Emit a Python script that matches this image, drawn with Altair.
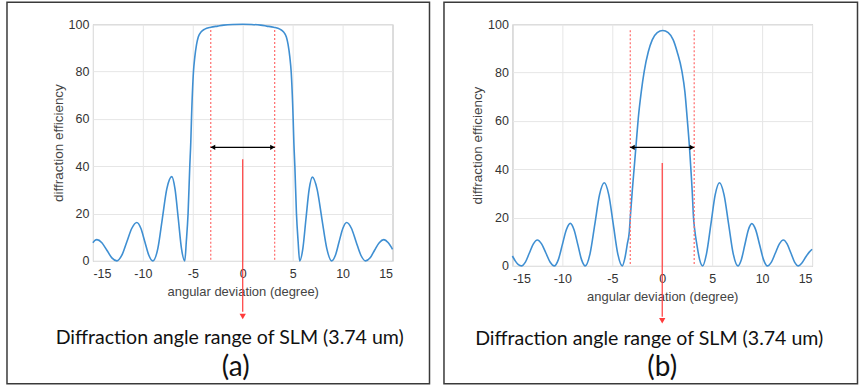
import altair as alt
import pandas as pd

# ---------------- data ----------------
x_ticks = [-15, -10, -5, 0, 5, 10, 15]
y_ticks = [0, 20, 40, 60, 80, 100]

# panel (a) curve
a_x = [-15.0, -14.8, -14.6, -14.1, -13.6, -13.1, -12.6,
       -12.1, -11.6, -11.1, -10.6, -10.2, -9.8, -9.4, -9.0,
       -8.5, -8.05, -7.6, -7.1, -6.78, -6.45, -6.13, -5.8,
       -5.65, -5.47, -5.3, -5.2, -5.13, -4.93, -4.8, -4.62, -4.45, -4.15, -3.8,
       -3.2, -2.5, -1.9, -1.0, 0.0, 0.9, 1.8, 2.4, 3.1, 3.72,
       4.07, 4.37, 4.54, 4.72, 4.85, 5.05, 5.12, 5.22, 5.38, 5.55, 5.7,
       6.02, 6.33, 6.65, 6.97, 7.45, 7.93, 8.42, 8.9,
       9.28, 9.65, 10.03, 10.4, 10.88, 11.35, 11.83, 12.3,
       12.76, 13.2, 13.67, 14.13, 14.55, 15.0]
a_y = [7.7, 8.7, 9.0, 7.7, 4.5, 1.3, 0.0,
       2.4, 8.1, 13.8, 16.2, 13.8, 8.1, 2.4, 0.0,
       5.2, 17.8, 30.4, 35.6, 30.4, 17.8, 5.2, 0.0,
       8.0, 20.0, 40.0, 50.0, 60.0, 80.0, 86.0, 91.5, 94.6, 96.8, 97.9,
       98.7, 99.2, 99.6, 99.9, 100.0, 99.9, 99.6, 99.2, 98.7, 97.9,
       96.8, 94.6, 91.5, 86.0, 80.0, 60.0, 50.0, 40.0, 20.0, 8.0, 0.0,
       5.2, 17.7, 30.2, 35.4, 30.2, 17.7, 5.2, 0.0,
       2.4, 8.1, 13.8, 16.2, 13.8, 8.1, 2.4, 0.0,
       1.3, 4.5, 7.7, 9.0, 7.8, 4.9]

# panel (b) curve
b_x = [-15.0, -14.7, -14.4, -14.1,
       -13.7, -13.3, -12.9, -12.5, -12.08, -11.65, -11.23, -10.8,
       -10.4, -10.0, -9.6, -9.2, -8.83, -8.45, -8.08, -7.7,
       -7.23, -6.75, -6.28, -5.8, -5.35, -4.9, -4.45, -4.0,
       -3.75, -3.5, -3.3, -3.2, -3.0, -2.8, -2.6, -2.4, -2.1, -1.8, -1.4, -1.0, -0.5,
       0.05, 0.6, 1.1, 1.5, 1.97, 2.27, 2.5, 2.73, 2.9, 3.0, 3.13, 3.25, 3.5, 3.75, 4.05,
       4.43, 4.87, 5.3, 5.73, 6.19, 6.65, 7.11, 7.57,
       7.92, 8.27, 8.62, 8.97, 9.36, 9.75, 10.14, 10.53,
       10.93, 11.33, 11.73, 12.13, 12.5, 12.88, 13.25, 13.63,
       14.0, 14.4, 14.7, 15.0]
b_y = [4.1, 2.0, 0.5, 0.0,
       1.6, 5.35, 9.1, 10.7, 9.1, 5.35, 1.6, 0.0,
       2.6, 8.8, 15.0, 17.6, 15.0, 8.8, 2.6, 0.0,
       5.0, 17.2, 29.4, 34.4, 29.4, 17.2, 5.0, 0.0,
       3.0, 9.0, 14.0, 20.0, 31.0, 41.0, 51.0, 61.0, 72.0, 80.6, 88.5, 93.5, 96.5,
       97.4, 96.5, 93.5, 88.5, 80.6, 72.0, 61.0, 49.0, 38.0, 31.0, 20.0, 15.0, 8.0, 2.5, 0.0,
       5.0, 17.2, 29.4, 34.4, 29.4, 17.2, 5.0, 0.0,
       2.6, 8.75, 14.9, 17.5, 14.9, 8.75, 2.6, 0.0,
       1.6, 5.35, 9.1, 10.7, 9.1, 5.35, 1.6, 0.0,
       1.3, 3.9, 5.6, 6.9]

# annotations (data units)
range_edges = [-3.2, 3.2]          # red dashed lines
range_top = 97.5
arrow_level_a = 48
arrow_level_b = 49
red_arrow_a = [43, -21.5, -23.5]   # start, end, head
red_arrow_b = [42.6, -21, -22.7]
caption = "Diffraction angle range of SLM (3.74 um)"
panel_labels = ["(a)", "(b)"]

BLUE = "#3f8fd2"
RED = "#ff3b3b"
DASH_RED = "#ff6b6b"
XS = alt.Scale(domain=[-15, 15], nice=False)
YS = alt.Scale(domain=[0, 100], nice=False)
XA = alt.Axis(values=x_ticks, title="angular deviation (degree)", labelExpr="datum.value + ''",
              titleFontSize=13)
YA = alt.Axis(values=y_ticks, title="diffraction efficiency", labelExpr="datum.value + ''",
              titleFontSize=13.5)


def X(f):
    return alt.X(f, scale=XS, axis=XA)


def Y(f):
    return alt.Y(f, scale=YS, axis=YA)


def panel(xs, ys, height, arrow_level, red_arrow, label, border, cap_pos, lab_pos):
    curve = pd.DataFrame({"x": xs, "y": ys})
    one = pd.DataFrame({"t": [caption], "l": [label]})

    border_l = alt.Chart(one).mark_rect(fillOpacity=0, stroke="#3a3a3a", strokeWidth=1.5).encode(
        x=alt.value(border[0]), x2=alt.value(border[1]),
        y=alt.value(border[2]), y2=alt.value(border[3]))

    line = alt.Chart(curve).mark_line(color=BLUE, strokeWidth=1.6, interpolate="monotone").encode(
        x=X("x:Q"), y=Y("y:Q"))

    dashed = alt.Chart(pd.DataFrame({"x": range_edges, "y": [range_top] * 2, "y2": [0, 0]})).mark_rule(
        color=DASH_RED, strokeDash=[2, 2], strokeWidth=1.2).encode(
        x=X("x:Q"), y=Y("y:Q"), y2="y2:Q")

    harrow = alt.Chart(pd.DataFrame({"x": [range_edges[0]], "x2": [range_edges[1]], "y": [arrow_level]})).mark_rule(
        color="black", strokeWidth=1.2).encode(
        x=X("x:Q"), x2="x2:Q", y=Y("y:Q"))
    heads = alt.Chart(pd.DataFrame({"x": [-2.98, 2.98], "y": [arrow_level] * 2,
                                    "s": ["triangle-left", "triangle-right"]})).mark_point(
        filled=True, color="black", size=28, opacity=1).encode(
        x=X("x:Q"), y=Y("y:Q"),
        shape=alt.Shape("s:N", scale=alt.Scale(domain=["triangle-left", "triangle-right"],
                                                range=["triangle-left", "triangle-right"]), legend=None))

    varrow = alt.Chart(pd.DataFrame({"x": [0], "y": [red_arrow[0]], "y2": [red_arrow[1]]})).mark_rule(
        color=RED, strokeWidth=1.2).encode(
        x=X("x:Q"), y=Y("y:Q"), y2="y2:Q")
    vhead = alt.Chart(pd.DataFrame({"x": [0], "y": [red_arrow[2]]})).mark_point(
        filled=True, color=RED, size=40, shape="triangle-down", opacity=1).encode(
        x=X("x:Q"), y=Y("y:Q"))

    cap = alt.Chart(one).mark_text(font="Lato", fontSize=19.6, color="#111", baseline="middle").encode(
        x=alt.value(cap_pos[0]), y=alt.value(cap_pos[1]), text="t:N")
    lab = alt.Chart(one).mark_text(font="Lato", fontSize=28, color="#111", baseline="middle").encode(
        x=alt.value(lab_pos[0]), y=alt.value(lab_pos[1]), text="l:N")

    return alt.layer(border_l, line, dashed, harrow, heads, varrow, vhead, cap, lab).properties(
        width=300, height=height)


pa = panel(a_x, a_y, 237, arrow_level_a, red_arrow_a, panel_labels[0],
           [-86, 337, -22, 360], (137, 314), (143, 344))
pb = panel(b_x, b_y, 242, arrow_level_b, red_arrow_b, panel_labels[1],
           [-68.5, 345.5, -22, 360], (137, 315), (150, 344))

chart = alt.hconcat(pa, pb, spacing=120, bounds="flush").properties(
    padding={"left": 5, "top": 0, "right": 0, "bottom": 0}
).configure_view(
    stroke="#a8a8a8", strokeWidth=1
).configure_axis(
    labelFont="Liberation Sans", labelFontSize=12.5, labelColor="#333333",
    titleFont="Liberation Sans", titleColor="#444444", titleFontWeight="normal",
    gridColor="#e6e6e6", gridWidth=1, domain=False, ticks=False
).configure_axisX(
    labelPadding=7, titlePadding=5
).configure_axisY(
    labelPadding=4, titlePadding=3
)

chart.save("out.html", embed_options={"renderer": "svg", "actions": False})
